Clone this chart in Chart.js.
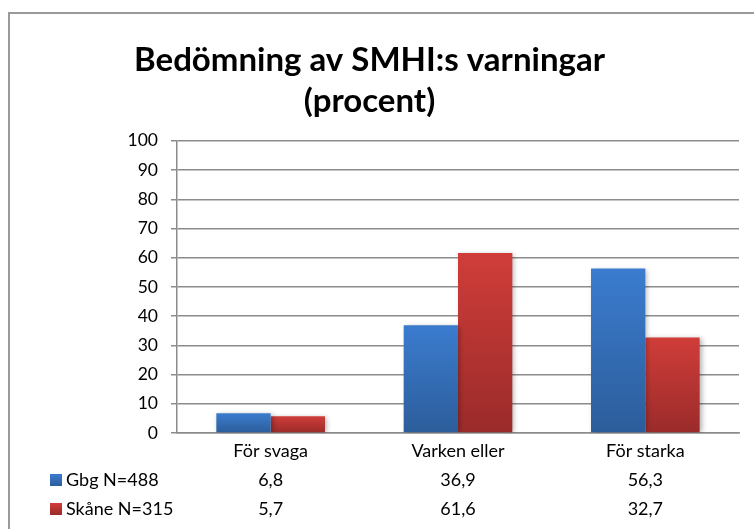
<!DOCTYPE html>
<html>
<head>
<meta charset="utf-8">
<script src="https://cdn.jsdelivr.net/npm/chart.js@4/dist/chart.umd.min.js"></script>
<style>
  html, body { margin: 0; padding: 0; background: #fff; }
  #wrap { width: 754px; height: 529px; }
</style>
</head>
<body>
<div id="wrap"><canvas id="chart" width="754" height="529"></canvas></div>
<script>
// data
const categories = ['För svaga', 'Varken eller', 'För starka'];
const seriesNames = ['Gbg N=488', 'Skåne N=315'];
const gbgValues = [6.8, 36.9, 56.3];
const skaneValues = [5.7, 61.6, 32.7];
const titleLines = ['Bedömning av SMHI:s varningar', '(procent)'];

const FONT = 'Lato, "Open Sans", sans-serif';
const GRID = '#8c8c8c';
const blue = { top: '#3b7ccf', bottom: '#2c5d9a', flat: '#3a74bf' };
const red = { top: '#d03d39', bottom: '#9a2b2a', flat: '#c0393a' };

// gradient per bar, light at the top, dark at the base
function barGradient(c) {
  return function (context) {
    const chart = context.chart;
    const { ctx, chartArea, scales } = chart;
    if (!chartArea || context.type !== 'data') return c.flat;
    const y0 = scales.y.getPixelForValue(0);
    const y1 = scales.y.getPixelForValue(context.raw);
    if (!(y0 > y1)) return c.flat;
    const g = ctx.createLinearGradient(0, y1, 0, y0);
    g.addColorStop(0, c.top);
    g.addColorStop(1, c.bottom);
    return g;
  };
}

const fmt = v => v.toFixed(1).replace('.', ',');

// outer frame + shadows + data table under the axis
const tablePlugin = {
  id: 'tablePlugin',
  beforeDraw(chart) {
    const ctx = chart.ctx;
    ctx.save();
    ctx.strokeStyle = '#9a9a9a';
    ctx.lineWidth = 2;
    ctx.strokeRect(9, 13, 900, 700);
    ctx.restore();
  },
  beforeDatasetsDraw(chart) {
    const ctx = chart.ctx;
    ctx.save();
    ctx.shadowColor = 'rgba(0,0,0,0.3)';
    ctx.shadowBlur = 5;
    ctx.shadowOffsetX = 2;
    ctx.shadowOffsetY = 1;
  },
  afterDatasetsDraw(chart) {
    chart.ctx.restore();
  },
  afterDraw(chart) {
    const ctx = chart.ctx;
    const xs = chart.scales.x;
    const base = chart.chartArea.bottom;
    const rows = [
      { name: seriesNames[0], values: gbgValues, color: blue },
      { name: seriesNames[1], values: skaneValues, color: red }
    ];
    ctx.save();
    ctx.font = '18px ' + FONT;
    ctx.fillStyle = '#000';
    ctx.textBaseline = 'middle';
    rows.forEach((row, r) => {
      const y = base + 47 + r * 29;
      const g = ctx.createLinearGradient(0, y - 6, 0, y + 6);
      g.addColorStop(0, row.color.top);
      g.addColorStop(1, row.color.bottom);
      ctx.fillStyle = g;
      ctx.fillRect(50, y - 6, 12, 12);
      ctx.fillStyle = '#000';
      ctx.textAlign = 'left';
      ctx.fillText(row.name, 66, y);
      ctx.textAlign = 'center';
      row.values.forEach((v, i) => {
        ctx.fillText(fmt(v), xs.getPixelForValue(i), y);
      });
    });
    ctx.restore();
  }
};

new Chart(document.getElementById('chart'), {
  type: 'bar',
  data: {
    labels: categories,
    datasets: [
      { label: seriesNames[0], data: gbgValues, backgroundColor: barGradient(blue) },
      { label: seriesNames[1], data: skaneValues, backgroundColor: barGradient(red) }
    ]
  },
  options: {
    responsive: false,
    animation: false,
    events: [],
    layout: { padding: { left: 0, right: 15, top: 0, bottom: 0 } },
    categoryPercentage: 0.58,
    barPercentage: 1,
    plugins: {
      legend: { display: false },
      tooltip: { enabled: false },
      title: {
        display: true,
        text: titleLines,
        color: '#000',
        font: { family: FONT, size: 33, weight: 'bold', lineHeight: 1.24 },
        padding: { top: 40, bottom: 19 }
      }
    },
    scales: {
      x: {
        grid: { display: false, drawTicks: false },
        border: { display: true, color: GRID, width: 1.5 },
        ticks: { color: '#000', font: { family: FONT, size: 18 }, padding: 7, maxRotation: 0 },
        afterFit: s => { s.height = 96; }
      },
      y: {
        min: 0,
        max: 100,
        ticks: { stepSize: 10, color: '#000', font: { family: FONT, size: 17.5 }, padding: 13 },
        grid: { color: GRID, lineWidth: 1.5, drawTicks: true, tickLength: 6, tickColor: GRID },
        border: { display: true, color: GRID, width: 1.5 },
        afterFit: s => { s.width = 177; }
      }
    }
  },
  plugins: [tablePlugin]
});
</script>
</body>
</html>
